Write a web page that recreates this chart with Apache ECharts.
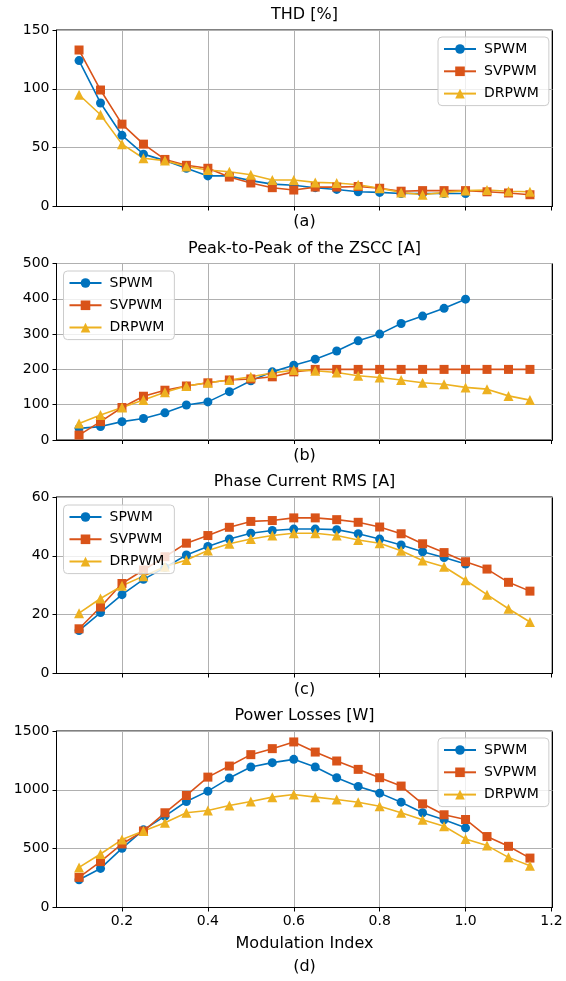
<!DOCTYPE html>
<html>
<head>
<meta charset="utf-8">
<script src="https://cdn.jsdelivr.net/npm/echarts@6/dist/echarts.min.js"></script>
<style>
    html, body { margin: 0; padding: 0; background: #fff; }
    #chart { width: 566px; height: 981px; }
</style>
</head>
<body>
<div id="chart"></div>
<script>
// 调制比
const mIndex = [0.1, 0.15, 0.2, 0.25, 0.3, 0.35, 0.4, 0.45, 0.5, 0.55, 0.6,
    0.65, 0.7, 0.75, 0.8, 0.85, 0.9, 0.95, 1.0, 1.05, 1.1, 1.15];
const xTicks = [0.2, 0.4, 0.6, 0.8, 1.0, 1.2];
const methods = ['SPWM', 'SVPWM', 'DRPWM'];

// THD [%]
const thdSPWM = [124, 88, 60.5, 44.5, 39, 32.5, 26, 26, 22, 19, 18, 16, 14.5, 12.5, 12, 11, 11, 11, 11];
const thdSVPWM = [133, 99, 70, 53, 40, 35, 32.5, 25, 20, 16, 14, 16.5, 16.5, 17, 15.5, 13, 13.5, 13.5, 13.5, 12.5, 11.5, 10];
const thdDRPWM = [95, 78, 53, 41, 39, 34, 31, 29.5, 27, 22.5, 22.5, 20.5, 20, 18.5, 15.5, 12, 10, 12, 13.5, 14, 13, 12.5];

// ZSCC 峰峰值 [A]
const zsccSPWM = [33, 38, 52, 61, 77, 99, 108, 137, 168, 193, 212, 229, 252, 281, 300, 330, 351, 373, 399];
const zsccSVPWM = [14, 52, 92, 124, 141, 153, 162, 170, 173, 179, 193, 200, 200, 200, 200, 200, 200, 200, 200, 200, 200, 200];
const zsccDRPWM = [47, 71, 92, 113, 135, 153, 162, 170, 179, 190, 198, 196, 191, 182, 177, 170, 162, 158, 149, 144, 125, 113];

// 相电流有效值 [A]
const rmsSPWM = [14.6, 20.7, 26.8, 32, 36, 40.3, 43.2, 45.7, 47.7, 48.6, 49.1, 49.1, 48.9, 47.5, 45.7, 43.7, 41.4, 39.4, 37.2];
const rmsSVPWM = [15.2, 22.6, 30.6, 35.2, 39.7, 44.3, 46.9, 49.7, 51.7, 52, 52.9, 52.9, 52.3, 51.4, 49.8, 47.5, 44.1, 41.1, 38, 35.5, 31, 28];
const rmsDRPWM = [20.5, 25.5, 29.8, 33.1, 36.3, 38.6, 41.8, 44.1, 45.7, 46.9, 47.7, 47.7, 46.9, 45.4, 44.3, 41.7, 38.4, 36.3, 31.7, 26.8, 22, 17.5];

// 损耗 [W]
const lossSPWM = [236, 332, 503, 660, 776, 901, 989, 1100, 1194, 1231, 1259, 1194, 1103, 1029, 972, 895, 805, 745, 677];
const lossSVPWM = [256, 390, 540, 650, 805, 952, 1108, 1202, 1299, 1350, 1407, 1321, 1245, 1174, 1103, 1032, 881, 788, 748, 603, 520, 420];
const lossDRPWM = [341, 455, 577, 650, 720, 805, 824, 867, 901, 938, 961, 938, 918, 895, 861, 805, 745, 691, 583, 526, 426, 355];

const titles = ['THD [%]', 'Peak-to-Peak of the ZSCC [A]', 'Phase Current RMS [A]', 'Power Losses [W]'];
const subLabels = ['(a)', '(b)', '(c)', '(d)'];
const yMax = [150, 500, 60, 1500];
const yStep = [50, 100, 20, 500];

const colors = ['#0072BD', '#D95319', '#EDB120'];
const symbols = ['circle', 'rect', 'triangle'];
const FONT = 'DejaVu Sans';

const panels = [
    [thdSPWM, thdSVPWM, thdDRPWM],
    [zsccSPWM, zsccSVPWM, zsccDRPWM],
    [rmsSPWM, rmsSVPWM, rmsDRPWM],
    [lossSPWM, lossSVPWM, lossDRPWM]
];

// 布局
const gridTop = [30, 263.5, 497, 731];
const gridH = 176.5;
const gridLeft = 56.5;
const gridRight = 13.5;
const centerX = gridLeft + (566 - gridLeft - gridRight) / 2;
const subLabelY = [222, 456, 690, 967];
const legendPos = [
    { left: 438, top: 37 },
    { left: 63.5, top: 271 },
    { left: 63.5, top: 505 },
    { left: 438, top: 738 }
];

const chart = echarts.init(document.getElementById('chart'));

const grids = [], xAxes = [], yAxes = [], series = [], legends = [], texts = [];

function addText(str, y) {
    texts.push({
        type: 'text',
        style: { text: str, x: centerX, y: y, align: 'center', verticalAlign: 'middle',
            font: '16px "DejaVu Sans"', fill: '#000' }
    });
}

panels.forEach(function(panel, p) {
    grids.push({
        left: gridLeft, right: gridRight, top: gridTop[p], height: gridH,
        show: true, borderColor: '#000', borderWidth: 1, backgroundColor: 'transparent'
    });
    xAxes.push({
        type: 'value', gridIndex: p, min: 0.0475, max: 1.2025,
        axisLine: { show: true, onZero: false, lineStyle: { color: '#000', width: 1 } },
        axisTick: { show: true, length: 4, customValues: xTicks, lineStyle: { color: '#000' } },
        axisLabel: {
            show: p === 3, customValues: xTicks, margin: 7,
            fontFamily: FONT, fontSize: 14, color: '#000',
            formatter: function(v) { return v.toFixed(1); }
        },
        splitLine: { show: true, lineStyle: { color: '#b0b0b0', width: 1 } }
    });
    yAxes.push({
        type: 'value', gridIndex: p, min: 0, max: yMax[p], interval: yStep[p],
        axisLine: { show: true, lineStyle: { color: '#000', width: 1 } },
        axisTick: { show: true, length: 4, lineStyle: { color: '#000' } },
        axisLabel: {
            margin: 7, fontFamily: FONT, fontSize: 14, color: '#000',
            formatter: function(v) { return String(v); }
        },
        splitLine: { show: true, lineStyle: { color: '#b0b0b0', width: 1 } }
    });
    panel.forEach(function(vals, k) {
        series.push({
            name: methods[k], type: 'line',
            xAxisIndex: p, yAxisIndex: p,
            data: vals.map(function(v, i) { return [mIndex[i], v]; }),
            symbol: symbols[k],
            symbolSize: k === 2 ? 10 : 9,
            showAllSymbol: true,
            color: colors[k],
            itemStyle: { color: colors[k] },
            lineStyle: { color: colors[k], width: 1.6 }
        });
    });
    legends.push({
        orient: 'vertical', left: legendPos[p].left, top: legendPos[p].top,
        data: methods,
        itemWidth: 32, itemHeight: 12, itemGap: 8.3,
        padding: [5, 10, 5, 5],
        backgroundColor: 'rgba(255,255,255,0.8)',
        borderColor: '#cccccc', borderWidth: 1, borderRadius: 4,
        selectedMode: false,
        textStyle: { fontFamily: FONT, fontSize: 14, color: '#000', lineHeight: 14, padding: [0, 0, 0, 3] }
    });
    addText(titles[p], gridTop[p] - 15);
    addText(subLabels[p], subLabelY[p]);
});
addText('Modulation Index', 944);

chart.setOption({
    backgroundColor: '#fff',
    animation: false,
    grid: grids,
    xAxis: xAxes,
    yAxis: yAxes,
    legend: legends,
    graphic: texts,
    series: series
});

window.addEventListener('resize', function() {
    chart.resize();
});
</script>
</body>
</html>
